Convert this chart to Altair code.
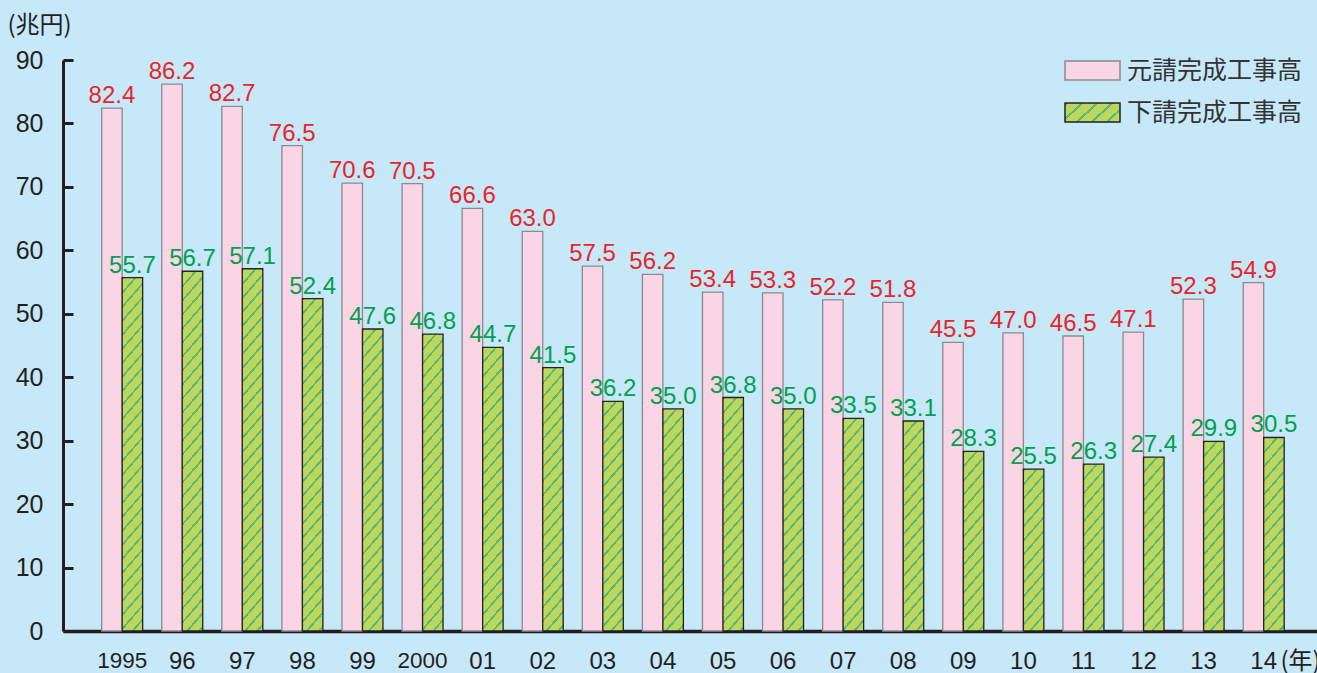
import json
import altair as alt
import pandas as pd

# Construction work completed, trillion yen
years = ["1995", "96", "97", "98", "99", "2000", "01", "02", "03", "04",
         "05", "06", "07", "08", "09", "10", "11", "12", "13", "14"]
series = ["元請完成工事高", "下請完成工事高"]
prime = [82.4, 86.2, 82.7, 76.5, 70.6, 70.5, 66.6, 63.0, 57.5, 56.2,
         53.4, 53.3, 52.2, 51.8, 45.5, 47.0, 46.5, 47.1, 52.3, 54.9]
sub = [55.7, 56.7, 57.1, 52.4, 47.6, 46.8, 44.7, 41.5, 36.2, 35.0,
       36.8, 35.0, 33.5, 33.1, 28.3, 25.5, 26.3, 27.4, 29.9, 30.5]

rows = []
for y, a, b in zip(years, prime, sub):
    rows.append({"year": y, "series": series[0], "value": a})
    rows.append({"year": y, "series": series[1], "value": b})
df = pd.DataFrame(rows)

# layout
W, H = 1254, 571
YMAX = 90
P_IN, P_OUT, ALIGN = 0.318, 0.595, 0.541
step = W / (len(years) - P_IN + 2 * P_OUT)
bar_w = step * (1 - P_IN) / 2
px_per_unit = H / YMAX

PINK = "#fad5e5"
GREEN = "#bdd75c"
STRIPE = "#58b879"
INK = "#231f20"


def stripe_gradient(w, h, period=14.0, frac=0.2, n=40, slope=1.15):
    """Rising '/' stripes for a w x h box; period is the vertical repeat in px."""
    k = period * n / (slope * slope * w * w + h * h)
    stops = []
    for i in range(n):
        o0 = round(i / n, 6)
        o1 = round((i + frac) / n, 6)
        o2 = round((i + 1) / n, 6)
        stops += [
            {"offset": o0, "color": STRIPE},
            {"offset": o1, "color": STRIPE},
            {"offset": o1, "color": GREEN},
            {"offset": o2, "color": GREEN},
        ]
    return {"gradient": "linear", "x1": 0, "y1": 0,
            "x2": round(k * slope * w, 6), "y2": round(k * h, 6), "stops": stops}


# one hatched fill per subcontract bar (stripe angle depends on bar height)
fill_conditions = []
for y, v in zip(years, sub):
    fill_conditions.append({
        "test": f"datum['year'] === '{y}' && datum['series'] === '{series[1]}'",
        "value": stripe_gradient(bar_w, v * px_per_unit),
    })

legend_grad = stripe_gradient(55, 19, period=15.0, frac=0.2, n=8, slope=1.0)

x_enc = alt.X(
    "year:N", sort=years,
    scale=alt.Scale(paddingInner=P_IN, paddingOuter=P_OUT, align=ALIGN, round=False),
    axis=alt.Axis(
        title="(年)", titleX=1217, titleY=37, titleAlign="left",
        titleBaseline="alphabetic", titleFont="Noto Sans CJK JP",
        titleFontSize=24, titleFontWeight="normal", titleColor=INK,
        titleAnchor="start",
        labelAngle=0, labelFont="Liberation Sans", labelColor=INK,
        labelFontSize={"condition": {"test": "length(datum.label) > 2", "value": 22.5},
                       "value": 24},
        labelPadding=18, ticks=False, domainColor=INK, domainWidth=3.5,
        grid=False,
    ),
)
xoff_enc = alt.XOffset("series:N", sort=series,
                       scale=alt.Scale(paddingInner=0, paddingOuter=0))
y_enc = alt.Y(
    "value:Q",
    scale=alt.Scale(domain=[0, YMAX], nice=False, zero=True),
    axis=alt.Axis(
        values=list(range(0, 91, 10)), grid=False,
        title="(兆円)", titleAngle=0, titleX=-56, titleY=-35,
        titleAlign="left", titleBaseline="middle", titleFont="Noto Sans CJK JP",
        titleFontSize=24, titleFontWeight="normal", titleColor=INK,
        labelFont="Liberation Sans", labelFontSize=25, labelColor=INK,
        labelPadding=30, tickSize=alt.expr("-10"), tickWidth=3,
        tickColor=INK, domainColor=INK, domainWidth=3,
    ),
)

base = alt.Chart(df).encode(x=x_enc, xOffset=xoff_enc, y=y_enc)

bars = base.mark_bar(strokeWidth=1.3).encode(
    fill=alt.Fill(
        "series:N",
        sort=series,
        scale=alt.Scale(domain=series, range=[PINK, alt.expr(json.dumps(legend_grad))]),
        legend=alt.Legend(
            title=None, orient="none", legendX=1001, legendY=-18, padding=0,
            symbolType="M-1,-0.345H1V0.345H-1Z", symbolSize=3025,
            symbolStrokeColor="#333333", symbolStrokeWidth=1.5,
            labelFont="Noto Sans CJK JP", labelFontSize=25, labelColor="#333333",
            labelOffset=6, labelLimit=0, rowPadding=0,
        ),
        condition=fill_conditions,
    ),
    stroke=alt.Stroke("series:N", sort=series,
                      scale=alt.Scale(domain=series, range=["#8a8a8a", "#222222"]),
                      legend=None),
)

labels = base.mark_text(
    baseline="alphabetic", dy=-5,
    font="Liberation Sans",
    fontSize=24,
).encode(
    text=alt.Text("value:Q", format=".1f"),
    color=alt.Color("series:N", sort=series,
                    scale=alt.Scale(domain=series, range=["#e8242b", "#00a050"]),
                    legend=None),
)

chart = alt.layer(bars, labels).properties(
    width=W, height=H,
    autosize=alt.AutoSizeParams(type="none"),
    padding={"left": 63, "top": 60, "right": 0, "bottom": 42},
    background="#c7e8f8",
).configure_view(stroke=None)

chart.save("out.html", embed_options={"renderer": "svg", "actions": False})
